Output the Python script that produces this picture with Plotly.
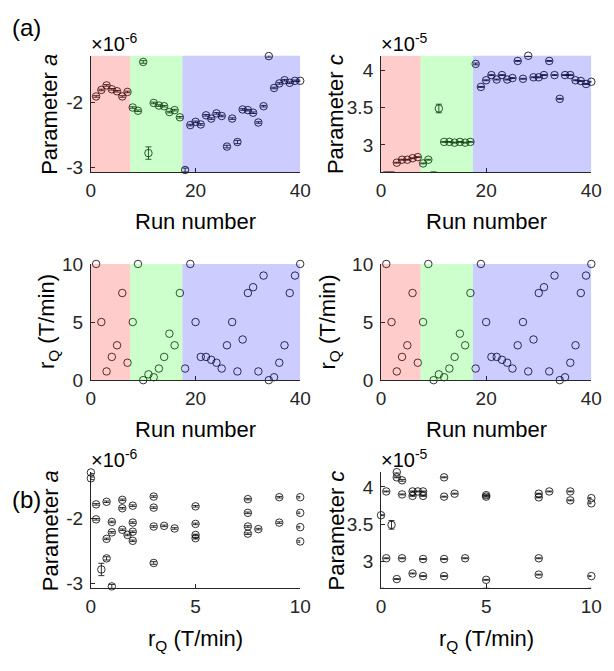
import plotly.graph_objects as go

# ---------------- data ----------------
run = list(range(1, 41))
rQ = [10, 5, 0.75, 2, 3, 7.5, 1.5, 5, 10, 0, 0.5, 0.25, 1, 2, 4, 3, 7.5,
      1, 10, 5, 2, 2, 1.75, 1.5, 1, 3, 5, 0.75, 3.5, 7.5, 8, 0.75, 9, 0, 0.25, 1.5, 3, 7.5, 9, 10]
# parameter a in units of 1e-6
a = [-1.91, -1.81, -1.74, -1.80, -1.83, -1.91, -1.84, -2.08, -2.13, -1.38,
     -2.78, -2.01, -2.05, -2.06, -2.15, -2.12, -2.23, -3.04, -2.35, -2.30,
     -2.34, -2.20, -2.25, -2.17, -2.21, -2.68, -2.25, -2.61, -2.11, -2.12,
     -2.16, -2.31, -2.06, -1.29, -1.78, -1.71, -1.66, -1.70, -1.67, -1.67]
a_err = [0.012, 0.012, 0.012, 0.012, 0.012, 0.012, 0.012, 0.012, 0.012, 0.02,
         0.095, 0.012, 0.012, 0.012, 0.012, 0.012, 0.012, 0.03, 0.012, 0.012,
         0.012, 0.012, 0.012, 0.012, 0.012, 0.02, 0.012, 0.025, 0.012, 0.012,
         0.012, 0.012, 0.012, 0.015, 0.012, 0.012, 0.012, 0.012, 0.012, 0.012]
# parameter c in units of 1e-5
c = [2.63, 2.63, 2.76, 2.80, 2.80, 2.82, 2.835, 2.75, 2.80, 2.63,
     3.49, 3.04, 3.04, 3.03, 3.04, 3.03, 3.04, 4.09, 3.78, 3.87,
     3.94, 3.88, 3.94, 3.88, 3.90, 4.13, 3.89, 4.20, 3.91, 3.91,
     3.94, 4.13, 3.94, 3.62, 3.94, 3.94, 3.87, 3.86, 3.82, 3.85]
c_err = [0.006] * 10 + [0.058] + [0.006] * 29
c_err[17] = 0.012
c_err[27] = 0.01

regions = [(0, 7.5, "rgb(255,0,0)"), (7.5, 17.5, "rgb(0,255,0)"), (17.5, 40, "rgb(0,0,255)")]
a_range = [-3.07, -1.285]
c_range = [2.635, 4.2]

# page is 614x671, the html body has an 8px margin -> figure placed at (8,8)
OFF = 8
W, H = 614 - OFF, 671 - OFF
FONT = "Liberation Sans, Arial, sans-serif"
AXC = "#262626"


def px(x):
    return (x - OFF) / W


def py(y):
    return 1 - (y - OFF) / H


fig = go.Figure()

panels = [
    ((88, 303), (47, 167), run, a, a_err, [0, 40], a_range, [0, 20, 40], [-3, -2], ["-3", "-2"], True),
    ((386, 602), (47, 167), run, c, c_err, [0, 40], c_range, [0, 20, 40], [3, 3.5, 4], ["3", "3.5", "4"], True),
    ((88, 303), (262, 382), run, rQ, None, [0, 40], [0, 10], [0, 20, 40], [0, 5, 10], ["0", "5", "10"], True),
    ((386, 602), (262, 382), run, rQ, None, [0, 40], [0, 10], [0, 20, 40], [0, 5, 10], ["0", "5", "10"], True),
    ((88, 303), (477, 597), rQ, a, a_err, [0, 10], a_range, [0, 5, 10], [-3, -2], ["-3", "-2"], False),
    ((386, 602), (477, 597), rQ, c, c_err, [0, 10], c_range, [0, 5, 10], [3, 3.5, 4], ["3", "3.5", "4"], False),
]

layout = dict(
    width=W, height=H, margin=dict(l=0, r=0, t=0, b=0),
    paper_bgcolor="white", plot_bgcolor="white", showlegend=False,
    font=dict(family=FONT, color=AXC),
)
shapes = []
for i, (xp, yp, xd, yd, err, xr, yr, xt, yt, ytt, shaded) in enumerate(panels):
    n = "" if i == 0 else str(i + 1)
    xa, ya = "x" + n, "y" + n
    tr = dict(
        x=xd, y=yd, mode="markers", xaxis=xa, yaxis=ya, cliponaxis=False,
        marker=dict(symbol="circle-open", size=7.5, color="black", line=dict(width=0.8)),
    )
    if err is not None:
        tr["error_y"] = dict(type="data", array=err, visible=True, color="black", thickness=0.8, width=3)
    fig.add_trace(go.Scatter(**tr))
    common = dict(showline=True, linecolor=AXC, linewidth=1, mirror=False, showgrid=False,
                  zeroline=False, ticks="inside", ticklen=4, tickcolor=AXC,
                  tickfont=dict(size=19, family=FONT, color=AXC))
    layout["xaxis" + n] = dict(domain=[px(xp[0]), px(xp[1])], range=xr, anchor=ya,
                               tickvals=xt, ticktext=[str(v) for v in xt], ticklabelstandoff=1, **common)
    layout["yaxis" + n] = dict(domain=[py(yp[1]), py(yp[0])], range=yr, anchor=xa,
                               tickvals=yt, ticktext=ytt, ticklabelstandoff=3, **common)
    if shaded:
        for x0, x1, col in regions:
            shapes.append(dict(type="rect", xref=xa, yref=ya + " domain", x0=x0, x1=x1, y0=0, y1=1,
                               fillcolor=col, opacity=0.2, line=dict(width=0), layer="above"))

layout["shapes"] = shapes

ann = []


def A(text, x, y, size, angle=0, xanchor="center"):
    ann.append(dict(text=text, x=px(x), y=py(y), xref="paper", yref="paper", showarrow=False,
                    textangle=angle, xanchor=xanchor, yanchor="middle",
                    font=dict(size=size, family=FONT, color="black")))


A("(a)", 22, 18, 24)
A("(b)", 22, 505, 24)
# exponents
A("×10<sup>-6</sup>", 86, 33, 20, xanchor="left")
A("×10<sup>-5</sup>", 384, 33, 20, xanchor="left")
A("×10<sup>-6</sup>", 86, 463, 20, xanchor="left")
A("×10<sup>-5</sup>", 384, 463, 20, xanchor="left")
# y titles
A("Parameter <i>a</i>", 46, 107, 22, angle=-90)
A("Parameter <i>c</i>", 340, 107, 22, angle=-90)
A("r<sub>Q</sub> (T/min)", 44, 322, 22, angle=-90)
A("r<sub>Q</sub> (T/min)", 333, 322, 22, angle=-90)
A("Parameter <i>a</i>", 46, 537, 22, angle=-90)
A("Parameter <i>c</i>", 340, 537, 22, angle=-90)
# x titles
A("Run number", 195, 218, 22)
A("Run number", 494, 218, 22)
A("Run number", 195, 433, 22)
A("Run number", 494, 433, 22)
A("r<sub>Q</sub> (T/min)", 195, 650, 22)
A("r<sub>Q</sub> (T/min)", 494, 650, 22)
layout["annotations"] = ann

fig.update_layout(**layout)
fig.write_html("out.html")
